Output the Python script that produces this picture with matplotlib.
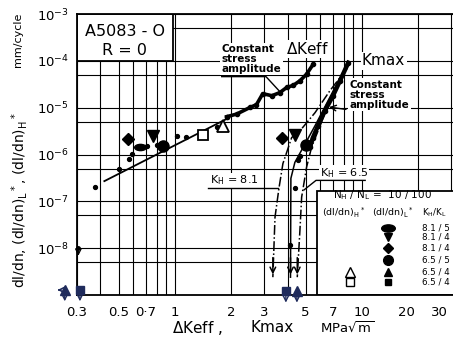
import matplotlib
matplotlib.use("Agg")
import matplotlib.pyplot as plt
from matplotlib.patches import Rectangle
from matplotlib.markers import MarkerStyle
from matplotlib.transforms import Affine2D, ScaledTranslation
from matplotlib.ticker import FixedLocator, NullFormatter

plt.rcParams["font.family"] = "DejaVu Sans"
plt.rcParams["mathtext.default"] = "regular"

# ---------------- DATA ----------------
xtick_vals = [0.3, 0.5, 0.7, 1, 2, 3, 5, 7, 10, 20, 30]
xtick_labels = ["0.3", "0.5", "0·7", "1", "2", "3", "5", "7", "10", "20", "30"]
xgrid_minor = [0.4, 0.6, 0.8, 0.9, 4, 6, 8, 9]
ytick_vals = [1e-8, 1e-7, 1e-6, 1e-5, 1e-4, 1e-3]
ytick_labels = [r"$10^{-8}$", r"$10^{-7}$", r"$10^{-6}$", r"$10^{-5}$", r"$10^{-4}$", r"$10^{-3}$"]
ygrid_minor = [5e-9, 5e-8, 5e-7, 5e-6, 5e-5, 5e-4]

# small dots, delta Keff side
dk_dots_x = [0.373, 0.50, 0.57, 0.59, 0.71, 0.80, 1.03, 1.15, 1.67, 1.89]
dk_dots_y = [2.0e-7, 4.8e-7, 7.9e-7, 1.03e-6, 1.55e-6, 1.6e-6, 2.5e-6, 2.4e-6, 3.9e-6, 6.2e-6]

# fitted line through the low delta Keff data
fit_x = [0.42, 1.9]
fit_y = [2.7e-7, 5.8e-6]

# dense band of constant stress amplitude data (delta Keff)
dk_band_x = [1.89, 2.14, 2.52, 2.73, 2.95, 3.30, 3.64, 3.96, 4.30, 4.66, 5.06, 5.49]
dk_band_y = [6.4e-6, 7.3e-6, 1.01e-5, 1.16e-5, 1.99e-5, 1.8e-5, 2.1e-5, 2.7e-5, 3.0e-5, 3.75e-5, 5.2e-5, 8.5e-5]

# dense band of constant stress amplitude data (Kmax)
km_band_x = [5.27, 5.47, 5.82, 6.34, 7.0, 7.63, 8.45]
km_band_y = [1.43e-6, 2.3e-6, 4.1e-6, 8.6e-6, 1.8e-5, 3.75e-5, 9.1e-5]

km_dots_x = [4.66, 4.54, 4.38, 4.15]
km_dots_y = [9.5e-7, 7.5e-7, 1.9e-7, 1.16e-8]

# curves for the two-level tests
c81_x = [8.31, 6.74, 5.61, 4.66, 4.21, 3.78, 3.60, 3.43, 3.34]
c81_y = [6.8e-5, 2.3e-5, 7.8e-6, 3.2e-6, 2.3e-6, 6.4e-7, 1.9e-7, 4.6e-8, 2.4e-9]
cmid_x = [8.4, 5.61, 4.84, 4.38, 4.17, 4.15]
cmid_y = [9.0e-5, 4.1e-6, 1.4e-6, 6.8e-7, 3.1e-7, 2.4e-9]
c65_x = [6.74, 5.38, 5.06, 4.76, 4.66, 4.51]
c65_y = [1.4e-5, 1.43e-6, 5.4e-7, 1.23e-7, 2.4e-8, 2.4e-9]

# (dl/dn)L* symbols: delta Keff side and Kmax side
ell_x, ell_y = [0.65], [1.43e-6]
tri_dn_x, tri_dn_y = [0.76, 4.38], [2.5e-6, 2.66e-6]
dia_x, dia_y = [0.56, 3.72], [2.16e-6, 2.27e-6]
circ_x, circ_y = [0.866, 5.0], [1.5e-6, 1.6e-6]
# (dl/dn)H* symbols
open_sq_x, open_sq_y = [1.42], [2.67e-6]
open_tri_x, open_tri_y = [1.81], [4.1e-6]
# below-range points (plotted at the bottom with down arrows)
low_tri_x, low_tri_y = [0.258, 4.49], [1.28e-9, 1.2e-9]
low_sq_x, low_sq_y = [0.311, 3.92], [1.28e-9, 1.2e-9]

leg_rows = ["8.1 / 5", "8.1 / 4", "8.1 / 4", "6.5 / 5", "6.5 / 4", "6.5 / 4"]
leg_y = [2.75e-8, 1.74e-8, 1.0e-8, 5.6e-9, 3.1e-9, 1.9e-9]

# ---------------- FIGURE ----------------
fig = plt.figure(figsize=(4.53, 3.49), dpi=100)
ax = fig.add_axes([77 / 453, 54 / 349, 379.5 / 453, 281 / 349])
ax.set_xscale("log")
ax.set_yscale("log")
ax.set_xlim(0.3, 32)
ax.set_ylim(1e-9, 1e-3)

ax.xaxis.set_major_locator(FixedLocator(xtick_vals))
ax.set_xticklabels(xtick_labels)
ax.xaxis.set_minor_locator(FixedLocator(xgrid_minor))
ax.xaxis.set_minor_formatter(NullFormatter())
ax.yaxis.set_major_locator(FixedLocator(ytick_vals))
ax.set_yticklabels(ytick_labels)
ax.yaxis.set_minor_locator(FixedLocator(ygrid_minor))
ax.yaxis.set_minor_formatter(NullFormatter())
ax.tick_params(which="both", length=0, labelsize=9.5)
ax.tick_params(axis="x", pad=8)
ax.tick_params(axis="y", pad=6)
ax.set_axisbelow(True)
ax.grid(which="both", color="black", lw=0.8)
for s in ax.spines.values():
    s.set_linewidth(1.3)

# the printed labels for 20 and 30 sit a bit left of their grid lines
for lab in ax.get_xticklabels()[-2:]:
    lab.set_transform(lab.get_transform() + ScaledTranslation(-0.12, 0, fig.dpi_scale_trans))

# title box
ax.add_patch(Rectangle((0.3, 1e-4), 0.975 - 0.3, 1e-3 - 1e-4, facecolor="white",
                       edgecolor="black", lw=1.3, zorder=2))
ax.text(0.54, 4.3e-4, "A5083 - O", ha="center", va="center", fontsize=11.5, zorder=3)
ax.text(0.54, 1.63e-4, "R = 0", ha="center", va="center", fontsize=11.5, zorder=3)

# legend box
ax.add_patch(Rectangle((5.72, 1e-9), 60, 1.7e-7 - 1e-9, facecolor="white",
                       edgecolor="black", lw=1.3, zorder=2))
ax.text(12.8, 1.34e-7, r"N$_H$ / N$_L$ =  10 / 100", ha="center", va="center",
        fontsize=7.5, zorder=3)
ax.text(8.0, 5.6e-8, r"(dl/dn)$_H$$^*$", ha="center", va="center", fontsize=6.8, zorder=3)
ax.text(14.6, 5.6e-8, r"(dl/dn)$_L$$^*$", ha="center", va="center", fontsize=6.8, zorder=3)
ax.text(21.0, 5.6e-8, r"K$_H$/K$_L$", ha="left", va="center", fontsize=6.3, zorder=3)
leg_marks = [MarkerStyle("o", transform=Affine2D().scale(1.4, 0.75)), "v", "D", "o", "^", "s"]
leg_sizes = [7, 6, 5, 7, 6, 5]
for m, ms, yy, lab in zip(leg_marks, leg_sizes, leg_y, leg_rows):
    ax.plot([13.7], [yy], marker=m, ms=ms, color="black", ls="none", zorder=3)
    ax.text(21.0, yy, lab, ha="left", va="center", fontsize=6.3, zorder=3)
ax.plot([8.61], [leg_y[4]], marker="^", ms=7, mfc="white", mec="black", mew=1, ls="none", zorder=3)
ax.plot([8.61], [leg_y[5]], marker="s", ms=6, mfc="white", mec="black", mew=1, ls="none", zorder=3)

# fitted line and data
ax.plot(fit_x, fit_y, color="black", lw=1.3, zorder=3)
ax.plot(dk_dots_x, dk_dots_y, "o", color="black", ms=2.8, zorder=4)
ax.plot(dk_band_x, dk_band_y, color="black", lw=2.6, marker="o", ms=3, zorder=4)
ax.plot(km_band_x, km_band_y, color="black", lw=3.2, marker="o", ms=3, zorder=4)
ax.plot(km_dots_x, km_dots_y, "o", color="black", ms=2.8, zorder=4)

# curves with arrows at the bottom
for cx, cy, ls in [(c81_x, c81_y, "-."), (cmid_x, cmid_y, "-"), (c65_x, c65_y, "-.")]:
    ax.plot(cx, cy, color="black", lw=1.1, ls=ls, zorder=3)
    ax.annotate("", xy=(cx[-1], cy[-1]), xytext=(cx[-1], cy[-1] * 3),
                arrowprops=dict(arrowstyle="->", color="black", lw=1.1), zorder=3)

ax.plot(ell_x, ell_y, marker=leg_marks[0], ms=6, color="black", ls="none", zorder=5)
ax.plot(tri_dn_x, tri_dn_y, "v", ms=8, color="black", zorder=5)
ax.plot(dia_x, dia_y, "D", ms=6, color="black", zorder=5)
ax.plot(circ_x, circ_y, "o", ms=8, color="black", zorder=5)
ax.plot(open_sq_x, open_sq_y, "s", ms=7, mfc="white", mec="black", mew=1.3, zorder=5)
ax.plot(open_tri_x, open_tri_y, "^", ms=8, mfc="white", mec="black", mew=1.3, zorder=5)

navy = "#1f2b5c"
ax.plot(low_tri_x, low_tri_y, "^", ms=7, color=navy, clip_on=False, zorder=5)
ax.plot(low_sq_x, low_sq_y, "s", ms=6, color=navy, clip_on=False, zorder=5)
for lx, ly in zip(low_tri_x + low_sq_x, low_tri_y + low_sq_y):
    ax.annotate("", xy=(lx, ly * 0.5), xytext=(lx, ly * 0.95), annotation_clip=False,
                arrowprops=dict(arrowstyle="->", color=navy, lw=1))
ax.annotate("", xy=(0.228, 1.28e-9), xytext=(0.252, 1.28e-9), annotation_clip=False,
            arrowprops=dict(arrowstyle="->", color=navy, lw=1.2))
ax.plot([0.305], [1e-8], "o", ms=2.5, color="black", clip_on=False)
ax.annotate("", xy=(0.305, 6e-9), xytext=(0.305, 1e-8), annotation_clip=False,
            arrowprops=dict(arrowstyle="->", color="black", lw=0.9))

# labels inside the plot
ax.text(5.14, 1.8e-4, r"$\Delta$Keff", ha="center", va="center", fontsize=11,
        bbox=dict(facecolor="white", edgecolor="none", pad=1), zorder=3)
ax.text(10, 1e-4, "Kmax", ha="left", va="center", fontsize=11,
        bbox=dict(facecolor="white", edgecolor="none", pad=1), zorder=3)
ax.text(1.78, 1.1e-4, "Constant\nstress\namplitude", ha="left", va="center",
        fontsize=7.5, linespacing=1.0, fontweight="bold",
        bbox=dict(facecolor="white", edgecolor="none", pad=1), zorder=3)
ax.plot([1.78, 3.07, 3.64], [4.6e-5, 4.6e-5, 2.2e-5], color="black", lw=1, zorder=3)
ax.text(8.61, 1.9e-5, "Constant\nstress\namplitude", ha="left", va="center",
        fontsize=7.5, linespacing=1.0, fontweight="bold",
        bbox=dict(facecolor="white", edgecolor="none", pad=1), zorder=3)
ax.annotate("", xy=(6.45, 1.05e-5), xytext=(8.5, 9.0e-6),
            arrowprops=dict(arrowstyle="->", color="black", lw=1), zorder=3)

ax.text(1.54, 2.8e-7, r"K$_H$ = 8.1", ha="left", va="center", fontsize=8,
        bbox=dict(facecolor="white", edgecolor="none", pad=0.5), zorder=3)
ax.plot([1.5, 3.55], [1.9e-7, 1.9e-7], color="black", lw=1, zorder=3)
ax.text(5.96, 4.1e-7, r"K$_H$ = 6.5", ha="left", va="center", fontsize=8,
        bbox=dict(facecolor="white", edgecolor="none", pad=0.5), zorder=3)
ax.plot([10.4, 5.68, 4.9], [2.8e-7, 2.8e-7, 1.75e-7], color="black", lw=1, zorder=3)

# axis titles
fig.text(20 / 453, 1 - 200 / 349, r"dl/dn, (dl/dn)$_L$$^*$, (dl/dn)$_H$$^*$",
         rotation=90, ha="center", va="center", fontsize=10)
fig.text(18 / 453, 1 - 40 / 349, "mm/cycle", rotation=90, ha="center", va="center", fontsize=8)
fig.text(172 / 453, 1 - 328 / 349, r"$\Delta$Keff ,", ha="left", va="center", fontsize=11)
fig.text(250 / 453, 1 - 328 / 349, "Kmax", ha="left", va="center", fontsize=11)
fig.text(320 / 453, 1 - 328 / 349, r"MPa$\sqrt{m}$", ha="left", va="center", fontsize=9.5)

fig.savefig("out.png", dpi=100)
